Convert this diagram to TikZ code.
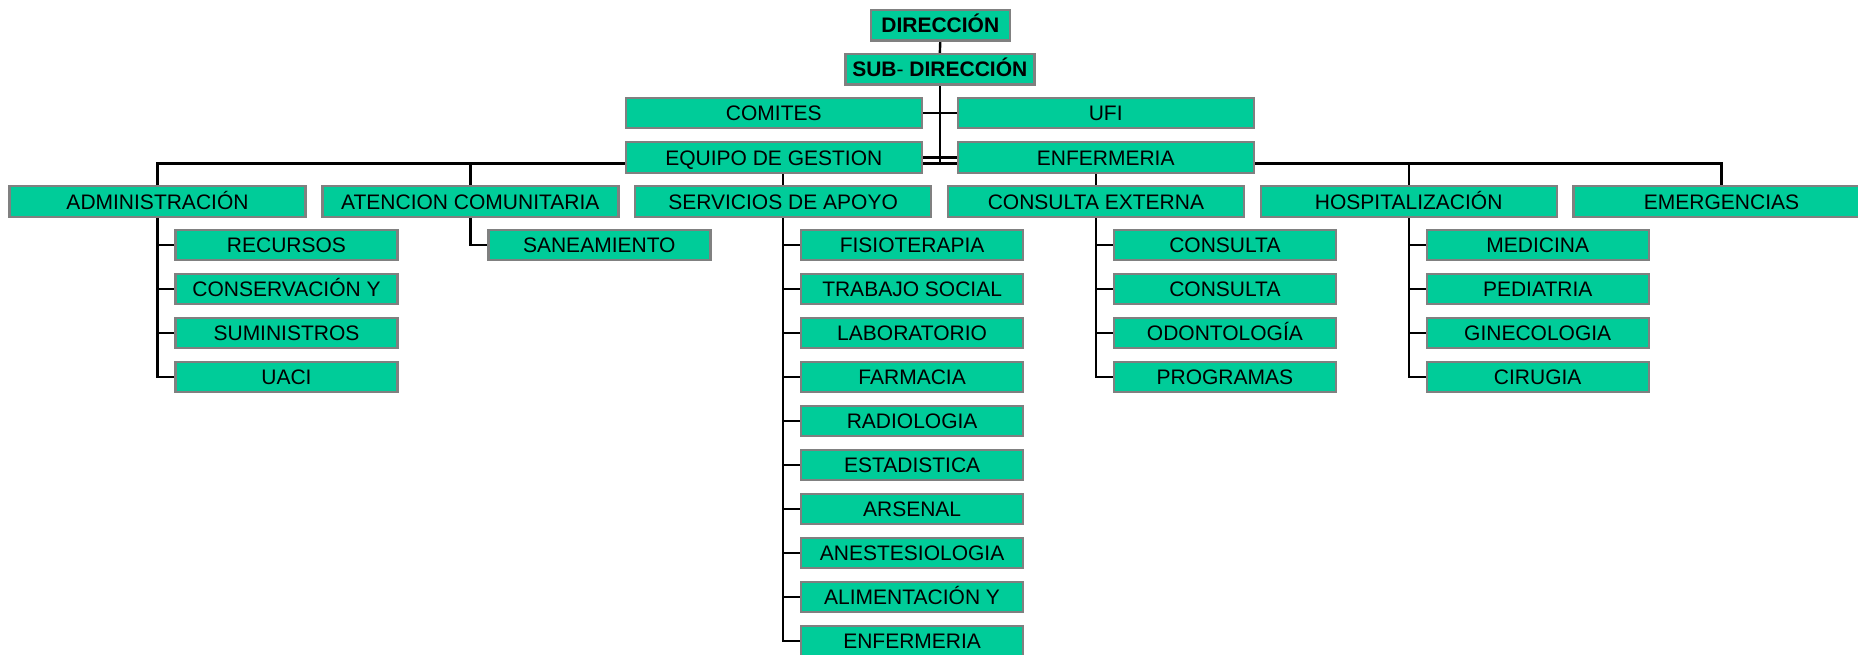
\documentclass[tikz,border=0pt]{standalone}
\usepackage{fontspec}
\setmainfont{Liberation Sans}
\usetikzlibrary{backgrounds}
\definecolor{boxgreen}{RGB}{0,204,153}
\definecolor{boxgray}{RGB}{128,128,128}
\begin{document}
\begin{tikzpicture}[x=1pt,y=-1pt,
  box/.style={draw=boxgray, line width=2.4pt, fill=boxgreen, inner sep=0pt, outer sep=0pt,
    minimum height=30.5pt, text=black, text height=15pt, text depth=0pt,
    font=\fontsize{21}{24}\selectfont},
  topbox/.style={box, font=\fontsize{21}{24}\selectfont\bfseries},
  widebox/.style={box, minimum width=296pt},
  kidbox/.style={box, minimum width=222pt},
  link/.style={draw=black, line width=2.4pt}]
\useasboundingbox (0,0) rectangle (1858,654);
\begin{scope}[on background layer]
  \fill[white] (0,0) rectangle (1858,654);
\end{scope}

% top
\node[topbox, minimum width=139pt] (dir) at (940.3,25.2) {DIRECCIÓN};
\node[topbox, minimum width=189pt] (sub) at (939.8,69.3) {SUB\mdseries-\bfseries{} DIRECCIÓN};
\node[widebox] (com) at (773.8,113) {COMITES};
\node[widebox] (ufi) at (1105.7,113) {UFI};
\node[widebox] (eq) at (773.8,157.5) {EQUIPO DE GESTION};
\node[widebox] (enf) at (1105.7,157.5) {ENFERMERIA};
\coordinate (bus) at (939.8,163.3);

% level 2
\node[widebox] (adm) at (157.5,201.5) {ADMINISTRACIÓN};
\node[widebox] (ate) at (470.3,201.5) {ATENCION COMUNITARIA};
\node[widebox] (ser) at (783.1,201.5) {SERVICIOS DE APOYO};
\node[widebox] (con) at (1095.9,201.5) {CONSULTA EXTERNA};
\node[widebox] (hos) at (1408.7,201.5) {HOSPITALIZACIÓN};
\node[widebox] (eme) at (1721.5,201.5) {EMERGENCIAS};

\begin{scope}[on background layer]
  \draw[link] (dir.south) -- (sub.north);
  \draw[link] (sub.south) -- (bus);
  \draw[link] (com.east) -- (ufi.west);
  \draw[link] (eq.east) -- (enf.west);
  \foreach \p in {adm,ate,ser,con,hos,eme} {
    \draw[link] (\p.north) |- (bus);
  }
\end{scope}

% children
\foreach \t [count=\i] in {RECURSOS,CONSERVACIÓN Y,SUMINISTROS,UACI} {
  \node[kidbox] (adm\i) at (286.5,245+44*\i-44) {\t};
  \begin{scope}[on background layer]\draw[link] (adm.south) |- (adm\i.west);\end{scope}
}
\foreach \t [count=\i] in {SANEAMIENTO} {
  \node[kidbox] (ate\i) at (599.3,245+44*\i-44) {\t};
  \begin{scope}[on background layer]\draw[link] (ate.south) |- (ate\i.west);\end{scope}
}
\foreach \t [count=\i] in {FISIOTERAPIA,TRABAJO SOCIAL,LABORATORIO,FARMACIA,RADIOLOGIA,ESTADISTICA,ARSENAL,ANESTESIOLOGIA,ALIMENTACIÓN Y,ENFERMERIA} {
  \node[kidbox] (ser\i) at (912.1,245+44*\i-44) {\t};
  \begin{scope}[on background layer]\draw[link] (ser.south) |- (ser\i.west);\end{scope}
}
\foreach \t [count=\i] in {CONSULTA,CONSULTA,ODONTOLOGÍA,PROGRAMAS} {
  \node[kidbox] (con\i) at (1224.9,245+44*\i-44) {\t};
  \begin{scope}[on background layer]\draw[link] (con.south) |- (con\i.west);\end{scope}
}
\foreach \t [count=\i] in {MEDICINA,PEDIATRIA,GINECOLOGIA,CIRUGIA} {
  \node[kidbox] (hos\i) at (1537.7,245+44*\i-44) {\t};
  \begin{scope}[on background layer]\draw[link] (hos.south) |- (hos\i.west);\end{scope}
}
\end{tikzpicture}
\end{document}
